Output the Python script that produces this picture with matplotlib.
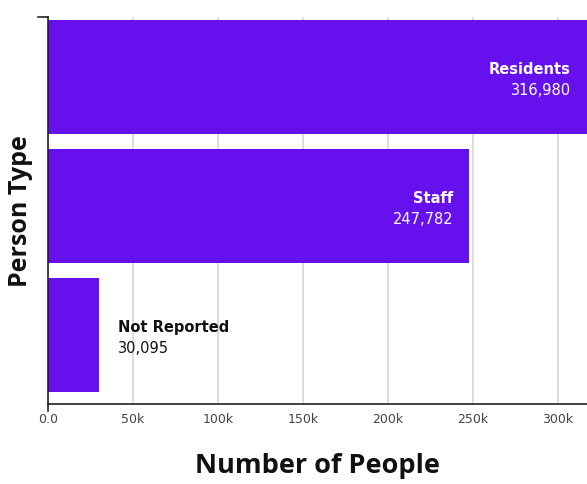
import numpy as np
import matplotlib
matplotlib.use('Agg')
import matplotlib.pyplot as plt
from matplotlib.lines import Line2D

# data
person_types = ['Residents', 'Staff', 'Not Reported']
people = [316980, 247782, 30095]
x_ticks = [0, 50000, 100000, 150000, 200000, 250000, 300000]
x_tick_labels = ['0.0', '50k', '100k', '150k', '200k', '250k', '300k']

bar_color = '#6610ee'

fig = plt.figure(figsize=(5.87, 4.85), dpi=100)
ax = fig.add_axes([48 / 587, 1 - 405 / 485, 1 - 48 / 587, (405 - 18) / 485])

y_pos = np.arange(len(person_types))
ax.barh(y_pos, people, height=0.89, color=bar_color, zorder=2)

ax.set_xlim(0, 317000)
ax.set_ylim(2.535, -0.465)

# gridlines
ax.set_xticks(x_ticks)
ax.set_xticklabels(x_tick_labels, fontsize=9, color='#444444', family='DejaVu Sans')
ax.tick_params(axis='x', length=0, pad=6)
ax.xaxis.grid(True, color='#dddddd', linewidth=1.5, zorder=0)
ax.set_axisbelow(True)
ax.set_yticks([])

for s in ['top', 'right']:
    ax.spines[s].set_visible(False)
for s in ['left', 'bottom']:
    ax.spines[s].set_color('#222222')
    ax.spines[s].set_linewidth(1.2)

# little domain ticks at the corners
ax.add_line(Line2D([0, 0], [0, -0.018], transform=ax.transAxes, color='#222222',
                   linewidth=1.2, clip_on=False))
ax.add_line(Line2D([-0.019, 0], [1, 1], transform=ax.transAxes, color='#222222',
                   linewidth=1.2, clip_on=False))

# value labels
for i, (name, val) in enumerate(zip(person_types, people)):
    inside = val > 100000
    if inside:
        col, ha, dx = 'white', 'right', -11.5
    else:
        col, ha, dx = '#111111', 'left', 13.5
    ax.annotate(name, xy=(val, i), xytext=(dx, 6), textcoords='offset points',
                ha=ha, va='center', fontsize=10.5, fontweight='bold', color=col,
                family='DejaVu Sans', annotation_clip=False)
    ax.annotate(f'{val:,}', xy=(val, i), xytext=(dx, -9), textcoords='offset points',
                ha=ha, va='center', fontsize=10.5, color=col, family='DejaVu Sans',
                annotation_clip=False)

ax.set_xlabel('Number of People', fontsize=19.5, fontweight='bold', family='Open Sans',
              color='#111111', labelpad=19)
ax.set_ylabel('Person Type', fontsize=18, fontweight='bold', family='Open Sans',
              color='#111111', labelpad=11)

fig.savefig('out.png', dpi=100)
